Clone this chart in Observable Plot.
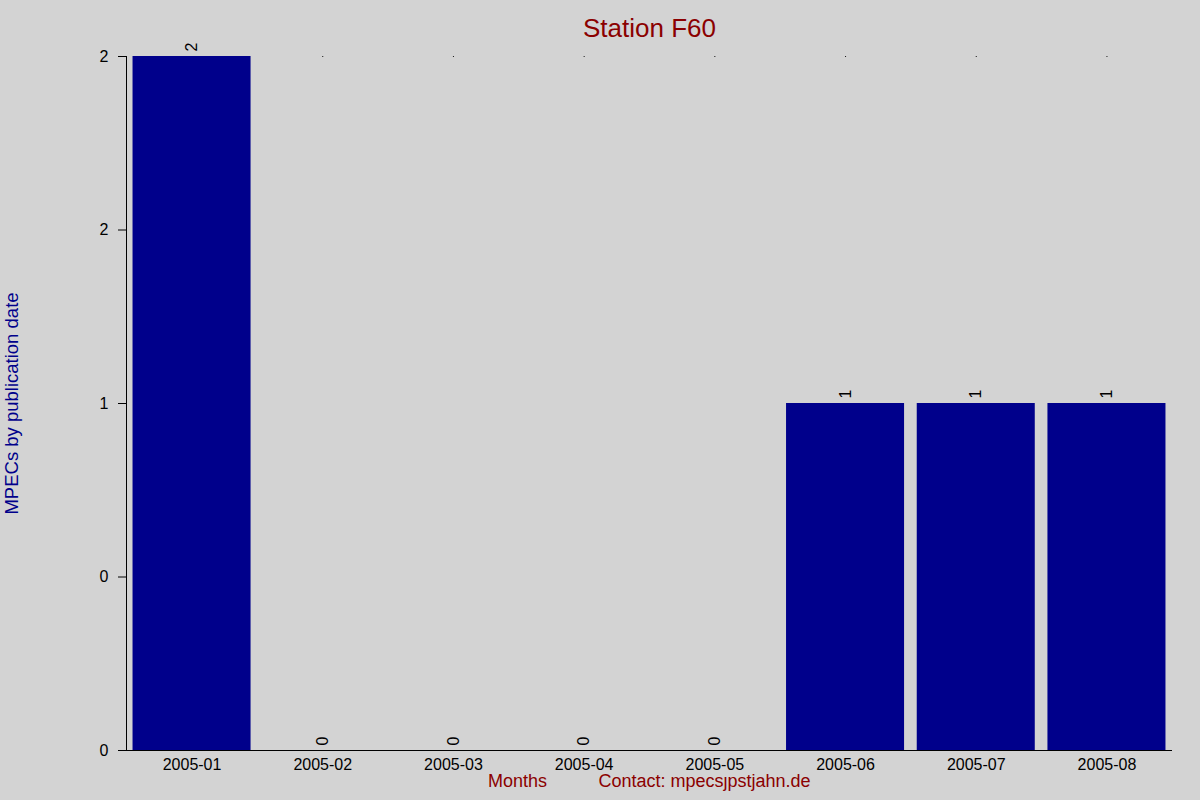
<!DOCTYPE html>
<html>
<head>
<meta charset="utf-8">
<script src="https://cdn.jsdelivr.net/npm/d3@7"></script>
<script src="https://cdn.jsdelivr.net/npm/@observablehq/plot@0.6"></script>
<style>
  html, body { margin: 0; padding: 0; background: #d3d3d3; }
</style>
</head>
<body>
<div id="chart"></div>
<script>
const months = ["2005-01","2005-02","2005-03","2005-04","2005-05","2005-06","2005-07","2005-08"];
const counts = [2,0,0,0,0,1,1,1];
const yTicks = [0,0.5,1,1.5,2];
const yTickLabels = ["0","0","1","2","2"];
const title = "Station F60";
const yLabel = "MPECs by publication date";
const xLabel = "Months";
const contact = "Contact: mpecs\u0237pstjahn.de";

const data = months.map((m, i) => ({month: m, count: counts[i]}));

const chart = Plot.plot({
  width: 1200,
  height: 800,
  marginLeft: 126,
  marginRight: 28,
  marginTop: 56,
  marginBottom: 50,
  style: {background: "#d3d3d3", fontFamily: "Liberation Sans, Arial, sans-serif", fontSize: "16px", color: "black"},
  x: {domain: months, paddingInner: 0.097, paddingOuter: 0.05, round: false, label: null},
  y: {domain: [0, 2], label: null},
  marks: [
    Plot.dot(months, {x: d => d, y: () => 2, r: 0.6, fill: "black", stroke: null}),
    Plot.barY(data, {x: "month", y: "count", fill: "#00008b"}),
    Plot.frame({anchor: "left", stroke: "black"}),
    Plot.ruleY([0], {stroke: "black"}),
    Plot.axisY({ticks: yTicks, tickFormat: (d, i) => yTickLabels[i], tickSize: 8, tickPadding: 10, fontSize: 16, label: null}),
    Plot.axisX({tickSize: 0, tickPadding: 8, fontSize: 16, label: null}),
    Plot.text(data, {x: "month", y: "count", text: d => String(d.count), rotate: -90, textAnchor: "start", dy: -5, fontSize: 16, fill: "black"}),
    Plot.text([title], {frameAnchor: "top", dy: -38, fontSize: 26, fill: "#8b0000"}),
    Plot.text([yLabel], {frameAnchor: "left", dx: -114, rotate: -90, textAnchor: "middle", fontSize: 18.5, fill: "#00008b"}),
    Plot.text([xLabel], {frameAnchor: "bottom-left", dx: 391, dy: 36, textAnchor: "middle", fontSize: 18, fill: "#8b0000"}),
    Plot.text([contact], {frameAnchor: "bottom-left", dx: 578, dy: 36, textAnchor: "middle", fontSize: 18, fill: "#8b0000"})
  ]
});
document.getElementById("chart").appendChild(chart);
</script>
</body>
</html>
